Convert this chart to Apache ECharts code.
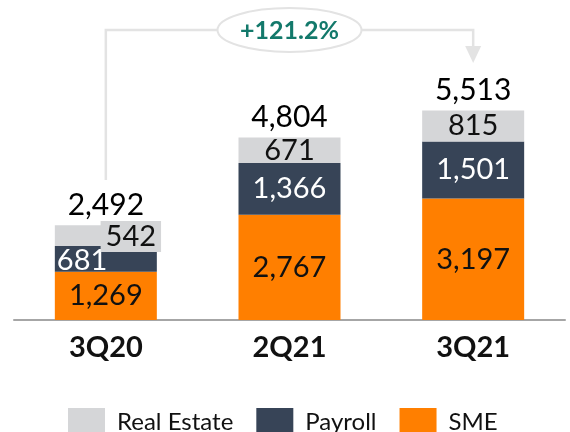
<!DOCTYPE html>
<html>
<head>
<meta charset="utf-8">
<script src="https://cdn.jsdelivr.net/npm/echarts@6/dist/echarts.min.js"></script>
<style>html,body{margin:0;padding:0;background:#fff;}#c{width:570px;height:432px;}</style>
</head>
<body>
<div id="c"></div>
<script>
var categories = ['3Q20', '2Q21', '3Q21'];
var sme = [1269, 2767, 3197];
var payroll = [681, 1366, 1501];
var realEstate = [542, 671, 815];
var totals = [2492, 4804, 5513];
var growthLabel = '+121.2%';

var FONT = 'Lato';
var chart = echarts.init(document.getElementById('c'));

function fmt(v) { return v.toLocaleString('en-US'); }

var payrollData = payroll.map(function (v, i) {
  if (i === 0) return { value: v, label: { position: 'insideLeft', distance: 2, offset: [0, 2] } };
  return v;
});
var realEstateData = realEstate.map(function (v, i) {
  if (i === 0) return { value: v, label: { position: 'inside', offset: [25, 1], backgroundColor: '#D5D6D8', padding: [1, 5, 1, 5] } };
  return v;
});

var option = {
  animation: false,
  backgroundColor: '#ffffff',
  grid: { left: 14, right: 5, top: 92, bottom: 112 },
  legend: {
    data: ['Real Estate', 'Payroll', 'SME'],
    left: 68, top: 408, padding: 0,
    itemWidth: 37, itemHeight: 28, itemGap: 23,
    icon: 'rect',
    textStyle: { fontFamily: FONT, fontSize: 24, color: '#111', padding: [0, 0, 0, 7] }
  },
  xAxis: {
    type: 'category',
    data: categories,
    axisTick: { show: false },
    axisLine: { lineStyle: { color: '#a6a6a6', width: 2 } },
    axisLabel: { fontFamily: FONT, fontSize: 29, fontWeight: 'bold', color: '#111', margin: 13 }
  },
  yAxis: { type: 'value', min: 0, max: 6000, show: false, splitLine: { show: false } },
  series: [
    {
      name: 'SME', type: 'bar', stack: 'total', data: sme, barWidth: 102,
      itemStyle: { color: '#FF7F00' },
      label: { show: true, position: 'inside', fontFamily: FONT, fontSize: 29, color: '#111', formatter: function (p) { return fmt(p.value); } }
    },
    {
      name: 'Payroll', type: 'bar', stack: 'total', data: payrollData, barWidth: 102,
      itemStyle: { color: '#374457' },
      label: { show: true, position: 'inside', fontFamily: FONT, fontSize: 29, color: '#fff', formatter: function (p) { return fmt(p.value); } }
    },
    {
      name: 'Real Estate', type: 'bar', stack: 'total', data: realEstateData, barWidth: 102,
      itemStyle: { color: '#D5D6D8' },
      label: { show: true, position: 'inside', fontFamily: FONT, fontSize: 29, color: '#111', formatter: function (p) { return fmt(p.value); } }
    },
    {
      name: 'Total', type: 'bar', data: totals, barWidth: 102, barGap: '-100%',
      itemStyle: { color: 'rgba(255,255,255,0)' },
      label: { show: true, position: 'top', distance: 5, fontFamily: FONT, fontSize: 30, color: '#000', formatter: function (p) { return fmt(p.value); } },
      z: 1
    }
  ]
};
chart.setOption(option);

var x0 = chart.convertToPixel({ xAxisIndex: 0 }, categories[0]);
var x1 = chart.convertToPixel({ xAxisIndex: 0 }, categories[1]);
var x2 = chart.convertToPixel({ xAxisIndex: 0 }, categories[2]);
var yLine = 30;
var rx = 72, ry = 22;
var lineColor = '#e3e3e3';
chart.setOption({
  graphic: [
    { type: 'polyline', shape: { points: [[x0, 180], [x0, yLine], [x1 - rx, yLine]] }, style: { stroke: lineColor, lineWidth: 2.5, fill: null }, z: 10 },
    { type: 'polyline', shape: { points: [[x1 + rx, yLine], [x2, yLine], [x2, 48]] }, style: { stroke: lineColor, lineWidth: 2.5, fill: null }, z: 10 },
    { type: 'polygon', shape: { points: [[x2 - 8, 46], [x2 + 8, 46], [x2, 63]] }, style: { fill: lineColor }, z: 10 },
    { type: 'ellipse', shape: { cx: x1, cy: yLine, rx: rx, ry: ry }, style: { fill: '#fff', stroke: lineColor, lineWidth: 2 }, z: 11 },
    { type: 'text', x: x1, y: yLine + 1, style: { text: growthLabel, fill: '#13796b', fontFamily: FONT, fontWeight: 'bold', fontSize: 25, align: 'center', verticalAlign: 'middle' }, z: 12 }
  ]
});
</script>
</body>
</html>
